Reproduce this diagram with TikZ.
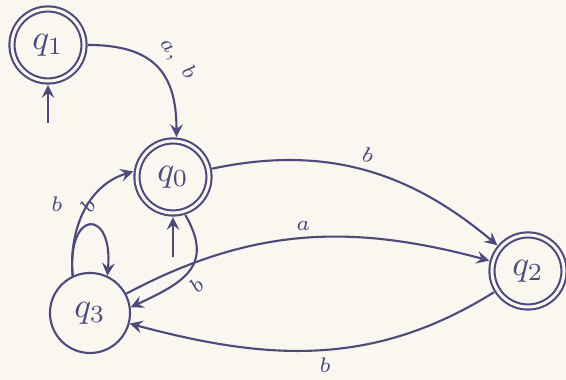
\documentclass[tikz,border=0pt]{standalone}
\definecolor{ink}{HTML}{4E4A7C}
\definecolor{paper}{HTML}{FAF6F0}
\begin{document}
\begin{tikzpicture}[x=0.01cm, y=0.01cm, >=stealth,
  state/.style={circle, draw=ink, line width=0.6pt, text=ink, minimum size=0.8cm, inner sep=0pt},
  accepting/.style={state, double=paper, double distance=0.03cm, minimum size=0.72cm, outer sep=0.04cm},
  trans/.style={->, draw=ink, line width=0.6pt},
  lbl/.style={font=\fontsize{6}{7}\selectfont, text=ink, inner sep=2pt}]
  % Bildfeld 566 x 380 (1 Einheit = 1 px)
  \fill[paper] (0,0) rectangle (566,380);
  \useasboundingbox (0,0) rectangle (566,380);
  \node[accepting] (q1) at (48,335) {$q_1$};
  \node[accepting] (q0) at (173,203) {$q_0$};
  \node[accepting] (q2) at (528,109) {$q_2$};
  \node[state] (q3) at (90,67) {$q_3$};
  % Startpfeile
  \coordinate (i1) at (48,257);
  \coordinate (i0) at (173,123);
  \draw[trans] (i1) -- (q1);
  \draw[trans] (i0) -- (q0);
  % Uebergaenge
  \draw[trans] (q1) to[out=0, in=90, looseness=1.3] node[lbl, sloped, above, pos=.55, inner sep=3pt] {$a,\ b$} (q0.85);
  \draw[trans] (q0) to[out=12, in=140] node[lbl, sloped, above, pos=.5] {$b$} (q2);
  \draw[trans] (q3) to[out=28, in=165] node[lbl, above, pos=.5] {$a$} (q2);
  \draw[trans] (q2) to[out=212, in=-15] node[lbl, below, pos=.48] {$b$} (q3);
  \draw[trans] (q0.-72) to[out=-60, in=25, looseness=1.4] node[lbl, sloped, below, pos=.55] {$b$} (q3.8);
  \draw[trans] (q3.115) to[out=95, in=197] node[lbl, sloped, pos=.55] {$b$} (q0.172);
  \draw[trans] (q3.115) to[out=95, in=85, looseness=5] node[lbl, above left, pos=.35, inner sep=5pt] {$b$} (q3.65);
\end{tikzpicture}
\end{document}
